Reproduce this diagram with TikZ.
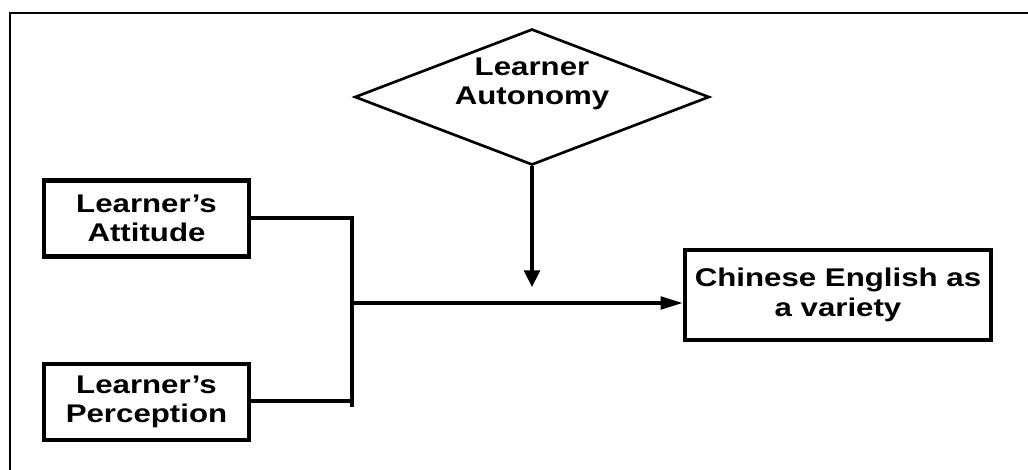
\documentclass[tikz,border=0pt]{standalone}
\usepackage{fontspec}
\setmainfont{Liberation Sans}[FakeStretch=1.22]
\usetikzlibrary{shapes.geometric,arrows.meta}
\begin{document}
\begin{tikzpicture}[x=0.75pt,y=-0.75pt,
  txt/.style={font=\bfseries\fontsize{19.2pt}{22pt}\selectfont, align=center, inner sep=0pt},
  boxnode/.style={txt, draw, line width=3.3pt, minimum width=154pt, minimum height=57.25pt},
  conn/.style={line width=2.3pt},
  arr/.style={line width=2.3pt, -{Triangle[length=16.5pt,width=9.5pt]}},
  varr/.style={line width=2.3pt, -{Triangle[length=12.5pt,width=12pt]}}]
\useasboundingbox (0,0) rectangle (1028,469);
% frame
\draw[line width=1.8pt] (10,472) -- (10,13) -- (1031,13);
% nodes
\node[diamond, draw, line width=2pt, minimum width=266pt, minimum height=102pt, inner sep=0pt] (auto) at (532,97) {};
\node[txt] (autotxt) at (532,84) {Learner\\Autonomy};
\node[boxnode] (att) at (146.5,218.5) {Learner’s\\Attitude};
\node[boxnode] (per) at (146.5,402) {Learner’s\\Perception};
\node[boxnode, minimum width=229.75pt, minimum height=67.75pt] (ceb) at (838,295) {Chinese English as\\a variety};
% connectors
\coordinate (jtop) at (352,218);
\coordinate (jbot) at (352,407);
\coordinate (jmid) at (352,303);
\coordinate (aend) at (532,287);
\draw[conn] (att.east |- jtop) -- (jtop) -- (jbot);
\draw[conn] (per.east |- 0,401) -- (352,401);
\draw[arr] (jmid) -- (jmid -| ceb.west);
\draw[varr] (auto.south) -- (aend);
\end{tikzpicture}
\end{document}
